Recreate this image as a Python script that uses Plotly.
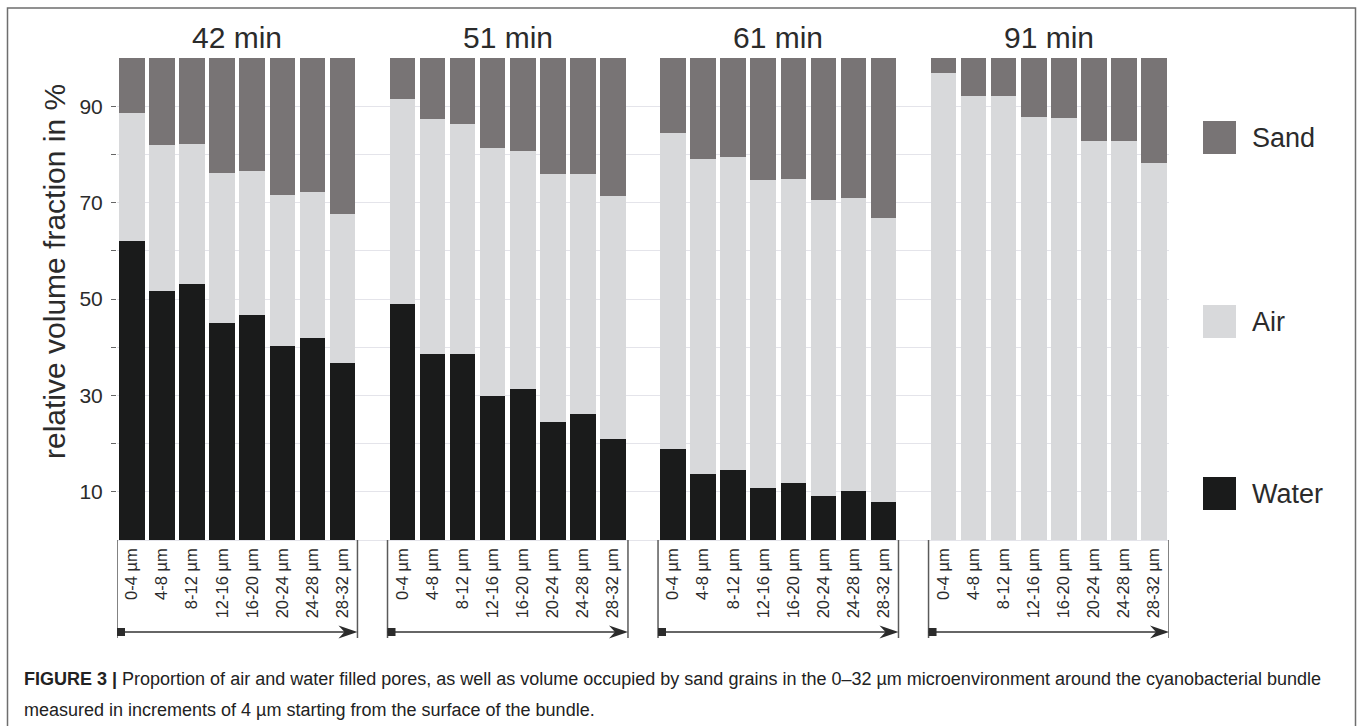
import plotly.graph_objects as go

# ---------------- data ----------------
time_groups = ["42 min", "51 min", "61 min", "91 min"]
depth_labels = ["0-4 µm", "4-8 µm", "8-12 µm", "12-16 µm",
                "16-20 µm", "20-24 µm", "24-28 µm", "28-32 µm"]

water_42 = [62.0, 51.7, 53.1, 45.1, 46.7, 40.3, 42.0, 36.8]
air_42 = [26.5, 30.2, 29.0, 31.0, 29.9, 31.2, 30.1, 30.8]
sand_42 = [11.5, 18.1, 17.9, 23.9, 23.4, 28.5, 27.9, 32.4]

water_51 = [49.0, 38.5, 38.5, 29.9, 31.3, 24.4, 26.1, 20.9]
air_51 = [42.4, 48.9, 47.9, 51.4, 49.5, 51.5, 49.8, 50.5]
sand_51 = [8.6, 12.6, 13.6, 18.7, 19.2, 24.1, 24.1, 28.6]

water_61 = [18.9, 13.6, 14.5, 10.7, 11.8, 9.1, 10.1, 7.9]
air_61 = [65.5, 65.4, 64.9, 63.9, 63.0, 61.4, 60.9, 58.9]
sand_61 = [15.6, 21.0, 20.6, 25.4, 25.2, 29.5, 29.0, 33.2]

water_91 = [0, 0, 0, 0, 0, 0, 0, 0]
air_91 = [96.8, 92.2, 92.2, 87.7, 87.5, 82.8, 82.7, 78.2]
sand_91 = [3.2, 7.8, 7.8, 12.3, 12.5, 17.2, 17.3, 21.8]

y_tick_values = [10, 20, 30, 40, 50, 60, 70, 80, 90]
y_tick_labels = ["10", "", "30", "", "50", "", "70", "", "90"]

# ---------------- styling / layout ----------------
W, H = 1360, 726
ML, MT, MR, MB = 117, 58, 191, 186
PW, PH = W - ML - MR, H - MT - MB

COL_SAND = "#787475"
COL_AIR = "#d8d9db"
COL_WATER = "#1a1b1b"
TXT = "#2b2b2b"
FONT = "Liberation Sans, Arial, Helvetica, sans-serif"

def px_x(p):
    """screen pixel x -> paper coordinate"""
    return (p - ML) / PW

def px_y(p):
    """screen pixel y -> paper coordinate"""
    return (H - MB - p) / PH

n_bars = len(depth_labels)
slot_step = n_bars + 1  # one empty slot between groups

water_all = [water_42, water_51, water_61, water_91]
air_all = [air_42, air_51, air_61, air_91]
sand_all = [sand_42, sand_51, sand_61, sand_91]

xs, ws, as_, ss, labels = [], [], [], [], []
for g in range(len(time_groups)):
    for i in range(n_bars):
        xs.append(g * slot_step + i)
        ws.append(water_all[g][i])
        as_.append(air_all[g][i])
        ss.append(sand_all[g][i])
        labels.append(depth_labels[i])

fig = go.Figure()
for name, vals, col in [("Water", ws, COL_WATER), ("Air", as_, COL_AIR), ("Sand", ss, COL_SAND)]:
    fig.add_trace(go.Bar(x=xs, y=vals, name=name, width=0.85,
                         marker=dict(color=col, line=dict(width=0)),
                         showlegend=False))

x_max = (len(time_groups) - 1) * slot_step + n_bars - 1

shapes = []
annotations = []

# group titles, brackets and arrows
arrow_y = px_y(632)
vline_bottom = px_y(638)
for g, title in enumerate(time_groups):
    x0 = g * slot_step - 0.5
    x1 = g * slot_step + n_bars - 0.5
    annotations.append(dict(x=(x0 + x1) / 2, y=px_y(38), xref="x", yref="paper",
                            text=title, showarrow=False, xanchor="center", yanchor="middle",
                            font=dict(size=30, color=TXT, family=FONT)))
    for xe in (x0, x1):
        shapes.append(dict(type="line", xref="x", yref="paper", x0=xe, x1=xe,
                           y0=0, y1=vline_bottom, line=dict(color="#5a5a5a", width=1.5)))
    shapes.append(dict(type="line", xref="x", yref="paper", x0=x0, x1=x1 - 0.3,
                       y0=arrow_y, y1=arrow_y, line=dict(color="#333333", width=1.5)))
    # square at start
    shapes.append(dict(type="path", xref="x", yref="paper", xsizemode="pixel", ysizemode="pixel",
                       xanchor=x0, yanchor=arrow_y, path="M0,-4 L8,-4 L8,4 L0,4 Z",
                       fillcolor="#2b2b2b", line=dict(width=0)))
    # arrow head at end
    shapes.append(dict(type="path", xref="x", yref="paper", xsizemode="pixel", ysizemode="pixel",
                       xanchor=x1, yanchor=arrow_y, path="M0,0 L-19,-6.5 L-13,0 L-19,6.5 Z",
                       fillcolor="#2b2b2b", line=dict(width=0)))

# y axis title
annotations.append(dict(x=px_x(54), y=px_y(272), xref="paper", yref="paper",
                        text="relative volume fraction in %", textangle=-90, showarrow=False,
                        xanchor="center", yanchor="middle",
                        font=dict(size=30, color=TXT, family=FONT)))

# legend (manual)
legend_items = [("Sand", COL_SAND, 121), ("Air", COL_AIR, 305), ("Water", COL_WATER, 477)]
for name, col, top in legend_items:
    shapes.append(dict(type="rect", xref="paper", yref="paper",
                       x0=px_x(1203), x1=px_x(1236), y0=px_y(top), y1=px_y(top + 33),
                       fillcolor=col, line=dict(width=0)))
    annotations.append(dict(x=px_x(1250), y=px_y(top + 16.5), xref="paper", yref="paper",
                            text=name, showarrow=False, xanchor="left", yanchor="middle",
                            font=dict(size=27, color=TXT, family=FONT)))

# outer frame
shapes.append(dict(type="rect", xref="paper", yref="paper",
                   x0=px_x(7.5), x1=px_x(1355.5), y0=px_y(8), y1=px_y(H + 20),
                   line=dict(color="#6e6e6e", width=1.5), fillcolor="rgba(0,0,0,0)"))

# caption
caption1 = ("<b>FIGURE 3 |</b> Proportion of air and water filled pores, as well as volume occupied "
            "by sand grains in the 0–32 µm microenvironment around the cyanobacterial bundle")
caption2 = "measured in increments of 4 µm starting from the surface of the bundle."
annotations.append(dict(x=px_x(22), y=px_y(679), xref="paper", yref="paper", text=caption1,
                        showarrow=False, xanchor="left", yanchor="middle",
                        font=dict(size=18, color="#222222", family=FONT)))
annotations.append(dict(x=px_x(22), y=px_y(710), xref="paper", yref="paper", text=caption2,
                        showarrow=False, xanchor="left", yanchor="middle",
                        font=dict(size=18, color="#222222", family=FONT)))

fig.update_layout(
    width=W, height=H,
    margin=dict(l=ML, r=MR, t=MT, b=MB, pad=0),
    paper_bgcolor="white", plot_bgcolor="white",
    barmode="stack", bargap=0,
    font=dict(family=FONT, color=TXT),
    shapes=shapes, annotations=annotations,
    xaxis=dict(range=[-0.5, x_max + 0.5], tickmode="array", tickvals=xs, ticktext=labels,
               tickangle=-90, ticks="", showgrid=False, zeroline=False, showline=False,
               tickfont=dict(size=16.5, color=TXT, family=FONT), ticklabelstandoff=4),
    yaxis=dict(range=[0, 100], tickmode="array", tickvals=y_tick_values, ticktext=y_tick_labels,
               ticks="outside", ticklen=5, tickwidth=1, tickcolor="#666666",
               showgrid=True, gridcolor="#e4e4ea", gridwidth=1.2,
               zeroline=True, zerolinecolor="#e4e4ea", zerolinewidth=1.2, showline=False,
               tickfont=dict(size=21, color=TXT, family=FONT), ticklabelstandoff=4),
)

# the page's default body margin would shift the figure; remove it so the
# figure fills the 1360x726 window exactly
fig.write_html("out.html",
               config={"displayModeBar": False},
               post_script="document.body.style.margin='0';document.body.style.overflow='hidden';")
